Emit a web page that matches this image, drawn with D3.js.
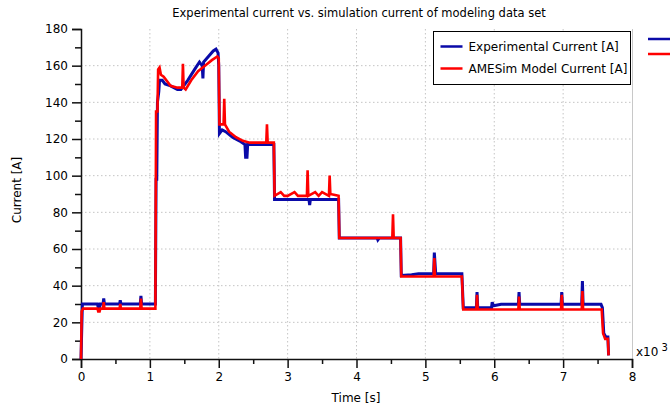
<!DOCTYPE html>
<html>
<head>
<meta charset="utf-8">
<script src="https://cdn.jsdelivr.net/npm/d3@7"></script>
<style>
  body { margin: 0; background: #fff; }
  svg text { font-family: "DejaVu Sans", Verdana, sans-serif; fill: #000; }
</style>
</head>
<body>
<div id="chart"></div>
<script>
// time in x10^3 s, current in A
const expTime = [0, 0.02, 0.24, 0.25, 0.27, 0.28, 0.32, 0.33, 0.34, 0.56, 0.57, 0.58, 0.86, 0.87, 0.88, 1.08, 1.09, 1.10, 1.11, 1.13, 1.14, 1.18, 1.22, 1.30, 1.40, 1.45, 1.55, 1.65, 1.72, 1.76, 1.77, 1.78, 1.85, 1.92, 1.96, 1.99, 2.00, 2.01, 2.05, 2.10, 2.20, 2.30, 2.38, 2.39, 2.41, 2.42, 2.60, 2.80, 2.81, 2.85, 3.31, 3.32, 3.33, 3.74, 3.75, 4.30, 4.31, 4.33, 4.64, 4.65, 4.80, 4.90, 5.12, 5.13, 5.15, 5.53, 5.55, 5.74, 5.75, 5.76, 5.96, 5.97, 5.99, 6.10, 6.35, 6.36, 6.37, 6.97, 6.98, 6.99, 7.27, 7.28, 7.29, 7.55, 7.57, 7.59, 7.62, 7.65, 7.66];
const expCurrent = [0, 30, 30, 28, 28, 30, 30, 33, 30, 30, 32, 30, 30, 34.5, 30, 30, 98, 98, 140, 146, 152, 152, 150, 149, 147, 147, 152, 158, 162, 160, 153, 162, 165, 168, 169, 167, 160, 123, 125, 124, 121, 119, 117, 110, 110, 117, 117, 117, 87, 87, 87, 84, 87, 87, 66, 66, 65, 66, 66, 45.5, 46, 46.5, 46.5, 58, 46.5, 46.5, 28, 28, 36.5, 28, 28, 31, 29, 29.8, 29.8, 36.5, 29.8, 29.8, 36.5, 29.8, 29.8, 42.5, 29.8, 29.8, 28, 14, 12, 12, 2];

const modelTime = [0, 0.01, 0.03, 0.24, 0.25, 0.27, 0.28, 0.32, 0.33, 0.34, 0.56, 0.57, 0.58, 0.86, 0.87, 0.88, 1.08, 1.09, 1.11, 1.12, 1.14, 1.16, 1.20, 1.30, 1.40, 1.47, 1.48, 1.49, 1.52, 1.60, 1.70, 1.80, 1.90, 1.98, 2.00, 2.01, 2.07, 2.08, 2.09, 2.15, 2.25, 2.35, 2.45, 2.60, 2.69, 2.70, 2.71, 2.80, 2.81, 2.90, 2.95, 3.00, 3.10, 3.15, 3.28, 3.29, 3.30, 3.40, 3.45, 3.50, 3.60, 3.61, 3.62, 3.74, 3.75, 4.52, 4.53, 4.54, 4.64, 4.65, 5.12, 5.13, 5.14, 5.53, 5.55, 5.74, 5.75, 5.76, 6.35, 6.36, 6.37, 6.97, 6.98, 6.99, 7.27, 7.28, 7.29, 7.56, 7.58, 7.61, 7.65, 7.66];
const modelCurrent = [0, 26, 27.5, 27.5, 26, 26, 27.5, 27.5, 31, 27.5, 27.5, 30, 27.5, 27.5, 33, 27.5, 27.5, 135, 135, 158, 159, 155, 154, 149, 148, 148, 161, 148, 147, 152, 157, 160, 163, 165, 164, 128, 128, 142, 128, 124, 121, 119, 118, 118, 118, 128, 118, 118, 89, 91, 89, 89, 91, 89, 89, 103, 89, 91, 89, 91, 89, 100, 90, 89, 66, 66, 79, 66, 66, 45, 45, 55, 45, 45, 27, 27, 35, 27, 27, 34, 27, 27, 35, 27, 27, 37, 27, 27, 14, 11, 11, 2];

const xTicks = [0, 1, 2, 3, 4, 5, 6, 7, 8];
const yTicks = [0, 20, 40, 60, 80, 100, 120, 140, 160, 180];
const seriesNames = ["Experimental Current [A]", "AMESim Model Current [A]"];
const seriesColors = ["#0a0aa8", "#ff0000"];

const W = 670, H = 408;
const margin = {top: 29, right: 38, bottom: 49, left: 81};
const width = W - margin.left - margin.right;
const height = H - margin.top - margin.bottom;

const svg = d3.select("#chart").append("svg")
    .attr("width", W).attr("height", H);

const g = svg.append("g").attr("transform", `translate(${margin.left},${margin.top})`);

const x = d3.scaleLinear().domain([0, 8]).range([0, width]);
const y = d3.scaleLinear().domain([0, 180]).range([height, 0]);

// grid
g.append("g").selectAll("line").data(yTicks.slice(1, -1)).join("line")
    .attr("x1", 0).attr("x2", width)
    .attr("y1", d => y(d)).attr("y2", d => y(d))
    .attr("stroke", "#c4c4c4").attr("stroke-dasharray", "1.5,2.5");
g.append("g").selectAll("line").data(xTicks.slice(1, -1)).join("line")
    .attr("x1", d => x(d)).attr("x2", d => x(d))
    .attr("y1", 0).attr("y2", height)
    .attr("stroke", "#c4c4c4").attr("stroke-dasharray", "1.5,2.5");

// right border
g.append("line").attr("x1", width + 0.5).attr("x2", width + 0.5)
    .attr("y1", 0).attr("y2", height).attr("stroke", "#c8c8c8");

// axes
const yAxis = d3.axisLeft(y).tickValues(yTicks).tickSize(9).tickPadding(4);
const yMinor = d3.axisLeft(y).tickValues(d3.range(10, 180, 20)).tickSize(6).tickFormat("");
const xAxis = d3.axisBottom(x).tickValues(xTicks).tickSize(9).tickPadding(4);
const xMinor = d3.axisBottom(x).tickValues(d3.range(0.5, 8, 1)).tickSize(5).tickFormat("");

function styleAxis(sel) {
    sel.selectAll("path, line").attr("stroke", "#111").attr("stroke-width", 1.5);
    sel.selectAll("text").style("font-size", "12px").attr("fill", "#000");
}
g.append("g").call(yAxis).call(styleAxis);
g.append("g").call(yMinor).call(styleAxis).select(".domain").remove();
g.append("g").attr("transform", `translate(0,${height})`).call(xAxis).call(styleAxis);
g.append("g").attr("transform", `translate(0,${height})`).call(xMinor).call(styleAxis).select(".domain").remove();

// lines
const line = d3.line().x(d => x(d[0])).y(d => y(d[1]));
const expData = d3.zip(expTime, expCurrent);
const modelData = d3.zip(modelTime, modelCurrent);

g.append("path").datum(expData).attr("d", line)
    .attr("fill", "none").attr("stroke", seriesColors[0]).attr("stroke-width", 3)
    .attr("stroke-linejoin", "miter");
g.append("path").datum(modelData).attr("d", line)
    .attr("fill", "none").attr("stroke", seriesColors[1]).attr("stroke-width", 2.6)
    .attr("stroke-linejoin", "miter");

// titles
svg.append("text").attr("x", 359).attr("y", 17).attr("text-anchor", "middle")
    .style("font-size", "11.5px").text("Experimental current vs. simulation current of modeling data set");
svg.append("text").attr("transform", "translate(21,190) rotate(-90)")
    .attr("text-anchor", "middle").style("font-size", "12px").text("Current [A]");
svg.append("text").attr("x", 356).attr("y", 402).attr("text-anchor", "middle")
    .style("font-size", "12px").text("Time [s]");
const mult = svg.append("text").attr("x", 636).attr("y", 356).style("font-size", "12px");
mult.append("tspan").text("x10");
mult.append("tspan").attr("dx", 3).attr("dy", -5).style("font-size", "10px").text("3");

// legend
const legend = svg.append("g").attr("transform", "translate(433.5,31.5)");
legend.append("rect").attr("width", 197).attr("height", 53)
    .attr("fill", "#fff").attr("stroke", "#000").attr("stroke-width", 1);
seriesNames.forEach((name, i) => {
    const yy = 15 + i * 22;
    legend.append("line").attr("x1", 7).attr("x2", 29).attr("y1", yy).attr("y2", yy)
        .attr("stroke", seriesColors[i]).attr("stroke-width", 2.5);
    legend.append("text").attr("x", 35).attr("y", yy + 4.5)
        .style("font-size", "12px").text(name);
});
// outer legend stubs
seriesNames.forEach((name, i) => {
    const yy = 39 + i * 15;
    svg.append("line").attr("x1", 648).attr("x2", 670).attr("y1", yy).attr("y2", yy)
        .attr("stroke", seriesColors[i]).attr("stroke-width", 2.5);
});
</script>
</body>
</html>
